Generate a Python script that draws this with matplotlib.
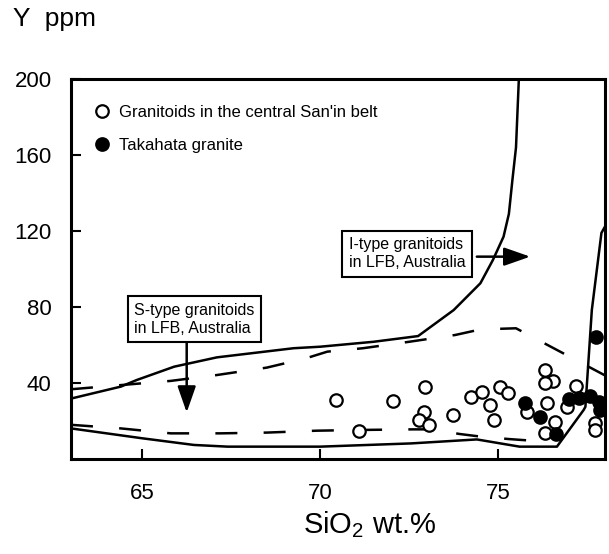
import matplotlib
matplotlib.use("Agg")
import matplotlib.pyplot as plt
from matplotlib.lines import Line2D

# Boundary lines
i_upper_x = [63.0, 64.4, 64.85, 65.9, 67.1, 69.25, 70.0, 71.5, 72.75, 73.75,
             74.5, 74.85, 75.15, 75.3, 75.4, 75.5, 75.58]
i_upper_y = [31.8, 38.1, 41.6, 48.6, 53.5, 58.3, 59.1, 61.7, 64.7, 78.4,
             92.5, 104.7, 117.0, 129.0, 147.0, 164.0, 200.0]

i_lower_x = [63.0, 65.0, 66.45, 67.4, 70.0, 72.55, 74.4, 75.6, 76.65, 77.4,
             77.45, 77.63, 77.9, 78.05]
i_lower_y = [16.1, 10.9, 7.4, 6.5, 6.5, 8.2, 10.3, 6.5, 6.5, 25.8,
             27.5, 78.4, 119.0, 124.0]

s_upper_x = [63.0, 64.4, 65.8, 67.1, 68.5, 69.6, 70.2, 71.2, 72.5, 73.8,
             74.5, 75.5, 78.0]
s_upper_y = [36.7, 38.9, 41.1, 44.2, 48.1, 53.0, 56.5, 58.3, 61.7, 65.3,
             68.2, 68.8, 44.0]

s_lower_x = [63.0, 64.4, 65.8, 67.2, 68.5, 69.9, 71.2, 72.6, 73.2, 73.9,
             74.5, 75.3, 75.9, 76.5]
s_lower_y = [18.0, 16.1, 13.5, 13.5, 13.9, 14.9, 15.3, 15.6, 15.6, 13.2,
             11.8, 10.5, 9.7, 9.0]

# Samples
sanin_x = [70.44, 72.04, 71.10, 72.94, 72.92, 72.78, 73.07, 73.72, 74.23, 74.54,
           74.77, 74.88, 75.05, 75.28, 76.31, 76.55, 76.31, 76.36, 75.80, 76.60,
           76.31, 77.19, 76.92, 77.72, 77.72]
sanin_y = [31.1, 30.7, 14.9, 37.7, 24.9, 20.5, 17.9, 23.2, 32.5, 35.4,
           28.4, 20.5, 37.7, 34.6, 46.8, 41.2, 39.8, 29.3, 24.9, 19.6,
           13.5, 38.4, 27.5, 18.8, 15.3]

taka_x = [75.75, 76.17, 76.62, 77.0, 77.27, 77.58, 77.84, 77.85, 77.75]
taka_y = [29.5, 22.0, 13.0, 31.5, 31.9, 33.0, 29.8, 25.8, 64.0]

xticks = [65, 70, 75]
yticks = [40, 80, 120, 160, 200]

plain = ["Liberation Sans", "DejaVu Sans"]

fig = plt.figure(figsize=(6.09, 5.54), dpi=100)
ax = fig.add_axes([71/609, 1-459/554, (605-71)/609, (459-79)/554])

ax.plot(i_upper_x, i_upper_y, color="black", lw=1.8, zorder=2)
ax.plot(i_lower_x, i_lower_y, color="black", lw=1.8, zorder=2)
ax.plot(s_upper_x, s_upper_y, color="black", lw=1.8, ls=(0, (8.8, 10.5)), zorder=2)
ax.plot(s_lower_x, s_lower_y, color="black", lw=1.8, ls=(0, (8.8, 10.5)), zorder=2)

ax.scatter(sanin_x, sanin_y, s=80, facecolor="white", edgecolor="black",
           linewidth=1.6, zorder=3)
ax.scatter(taka_x, taka_y, s=80, facecolor="black", edgecolor="black",
           linewidth=1.6, zorder=4)

# Boxes with arrows
box = dict(boxstyle="square,pad=0.4", fc="white", ec="black", lw=1.5)
ax.text(64.78, 73.5, "S-type granitoids\nin LFB, Australia", family=plain,
        fontsize=11.5, va="center", ha="left", bbox=box, zorder=5,
        linespacing=1.25)
ax.text(70.8, 108.0, "I-type granitoids\nin LFB, Australia", family=plain,
        fontsize=11.5, va="center", ha="left", bbox=box, zorder=5,
        linespacing=1.25)
arrow = dict(arrowstyle="-|>,head_length=0.8,head_width=0.28", color="black",
             lw=1.8, mutation_scale=20, shrinkA=0, shrinkB=0)
ax.annotate("", xy=(66.25, 24.5), xytext=(66.25, 61.0), arrowprops=arrow, zorder=5)
ax.annotate("", xy=(75.9, 106.5), xytext=(74.4, 106.5), arrowprops=arrow, zorder=5)

# Legend
handles = [Line2D([], [], ls="none", marker="o", ms=9, mfc="white", mec="black", mew=1.6),
           Line2D([], [], ls="none", marker="o", ms=9, mfc="black", mec="black", mew=1.6)]
ax.legend(handles, ["Granitoids in the central San'in belt", "Takahata granite"],
          loc="upper left", bbox_to_anchor=(0.014, 0.972), frameon=False,
          handlelength=1.0, handletextpad=0.55, labelspacing=1.1,
          prop={"family": plain, "size": 12})

ax.set_xlim(63, 78)
ax.set_ylim(0, 200)
ax.set_xticks(xticks)
ax.set_yticks(yticks)
ax.tick_params(direction="in", length=7, width=1.5, labelsize=16, pad=14)
ax.tick_params(axis="x", pad=17)
for lab in ax.get_xticklabels() + ax.get_yticklabels():
    lab.set_family(plain)
for sp in ax.spines.values():
    sp.set_linewidth(2.2)

fig.text(13/609, 1-7/554, "Y  ppm", family=plain, fontsize=19, va="top", ha="left")
fig.text(370/609, 1-525/554, r"SiO$_\mathregular{2}$ wt.%", family=plain,
         fontsize=21, va="center", ha="center")

fig.savefig("out.png", dpi=100)
